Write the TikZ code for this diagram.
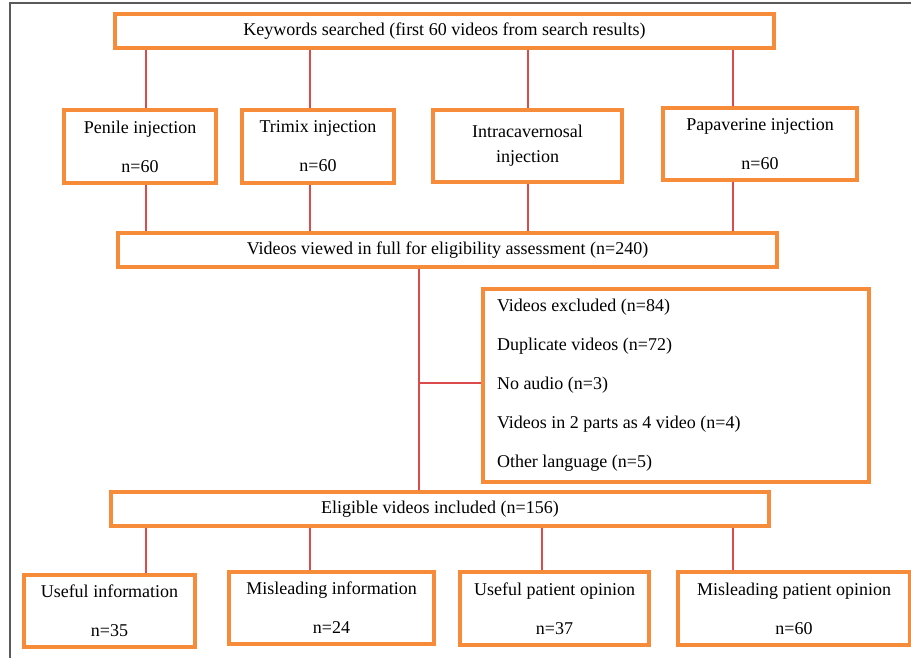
\documentclass[tikz,border=0pt]{standalone}
\usepackage{fontspec}
\setmainfont{Liberation Serif}
\usepackage{tikz}
\definecolor{boxorange}{HTML}{F68B3A}
\definecolor{linkred}{HTML}{DC4B4B}
\definecolor{framegray}{HTML}{5A5A5A}

\begin{document}
\begin{tikzpicture}[x=1pt,y=-1pt,
        box/.style={draw=boxorange,line width=3.4pt,fill=white,align=center,inner sep=0pt,
            font=\fontsize{18}{22}\selectfont},
        link/.style={draw=linkred,line width=1.3pt}]
        \useasboundingbox (0,0) rectangle (911,658);
        % frame
        \draw[framegray,line width=2pt] (9.5,658) -- (9.5,3.5) -- (911,3.5);
        % top row
        \node[box,minimum width=659pt,minimum height=34pt] (kw) at (444.5,31)
            {Keywords searched (first 60 videos from search results)};
        \node[box,minimum width=152pt,minimum height=73pt] (pen) at (140,146.5)
            {Penile injection\\[17pt]n=60};
        \node[box,minimum width=152pt,minimum height=73pt] (tri) at (318,146.5)
            {Trimix injection\\[17pt]n=60};
        \node[box,minimum width=189pt,minimum height=72pt] (intra) at (527.5,146)
            {Intracavernosal\\[3pt]injection};
        \node[box,minimum width=194pt,minimum height=72pt] (pap) at (760,144)
            {Papaverine injection\\[17pt]n=60};
        % screening
        \node[box,minimum width=659pt,minimum height=34pt] (view) at (447.5,250)
            {Videos viewed in full for eligibility assessment (n=240)};
        \node[box,minimum width=386pt,minimum height=193pt,text width=358pt,align=flush left,inner xsep=14pt] (excl) at (676,385.5)
            {Videos excluded (n=84)\\[17pt]Duplicate videos (n=72)\\[17pt]No audio (n=3)\\[17pt]Videos in 2 parts as 4 video (n=4)\\[17pt]Other language (n=5)};
        \node[box,minimum width=658pt,minimum height=34pt] (elig) at (440,509)
            {Eligible videos included (n=156)};
        % bottom row
        \node[box,minimum width=171pt,minimum height=72pt] (use) at (109.5,611)
            {Useful information\\[17pt]n=35};
        \node[box,minimum width=205pt,minimum height=72pt] (mis) at (331.5,608)
            {Misleading information\\[17pt]n=24};
        \node[box,minimum width=189pt,minimum height=73pt] (upo) at (554.5,608.5)
            {Useful patient opinion\\[17pt]n=37};
        \node[box,minimum width=232pt,minimum height=73pt] (mpo) at (794,608.5)
            {Misleading patient opinion\\[17pt]n=60};
        % connectors
        \coordinate (c0) at (419,0);
        \coordinate (c1) at (146,0);
        \coordinate (c2) at (310,0);
        \coordinate (c3) at (528,0);
        \coordinate (c4) at (733,0);
        \coordinate (d3) at (542,0);
        \coordinate (b0) at (419,383);
        \draw[link] (kw.south -| c1) -- (pen.north -| c1) (pen.south -| c1) -- (view.north -| c1);
        \draw[link] (kw.south -| c2) -- (tri.north -| c2) (tri.south -| c2) -- (view.north -| c2);
        \draw[link] (kw.south -| c3) -- (intra.north -| c3) (intra.south -| c3) -- (view.north -| c3);
        \draw[link] (kw.south -| c4) -- (pap.north -| c4) (pap.south -| c4) -- (view.north -| c4);
        \draw[link] (view.south -| c0) -- (elig.north -| c0);
        \draw[link] (b0) -- (excl.west |- b0);
        \draw[link] (elig.south -| c1) -- (use.north -| c1);
        \draw[link] (elig.south -| c2) -- (mis.north -| c2);
        \draw[link] (elig.south -| d3) -- (upo.north -| d3);
        \draw[link] (elig.south -| c4) -- (mpo.north -| c4);
    \end{tikzpicture}
\end{document}
